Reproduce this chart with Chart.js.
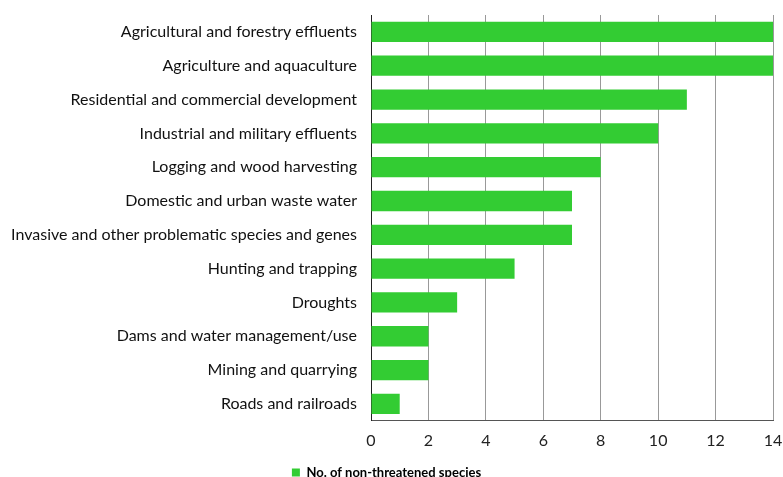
<!DOCTYPE html>
<html>
<head>
<meta charset="utf-8">
<script src="https://cdn.jsdelivr.net/npm/chart.js@4/dist/chart.umd.min.js"></script>
<style>
  html, body { margin: 0; padding: 0; background: #fff; overflow: hidden; }
  #wrap { width: 783px; height: 489px; position: relative; }
</style>
</head>
<body>
<div id="wrap"><canvas id="c"></canvas></div>
<script>
const threats = [
  "Agricultural and forestry effluents",
  "Agriculture and aquaculture",
  "Residential and commercial development",
  "Industrial and military effluents",
  "Logging and wood harvesting",
  "Domestic and urban waste water",
  "Invasive and other problematic species and genes",
  "Hunting and trapping",
  "Droughts",
  "Dams and water management/use",
  "Mining and quarrying",
  "Roads and railroads"
];
const nonThreatenedCounts = [14, 14, 11, 10, 8, 7, 7, 5, 3, 2, 2, 1];
const seriesLabel = "No. of non-threatened species";
const axisTicks = [0, 2, 4, 6, 8, 10, 12, 14];

const FONT = "Lato, 'Open Sans', sans-serif";

new Chart(document.getElementById('c'), {
  type: 'bar',
  data: {
    labels: threats,
    datasets: [{
      label: seriesLabel,
      data: nonThreatenedCounts,
      backgroundColor: '#33CC33',
      borderWidth: 0,
      categoryPercentage: 0.6,
      barPercentage: 1.0
    }]
  },
  options: {
    indexAxis: 'y',
    responsive: true,
    maintainAspectRatio: false,
    animation: false,
    layout: { padding: { left: 0, right: 10, top: 15, bottom: 0 } },
    plugins: {
      tooltip: { enabled: false },
      legend: {
        position: 'bottom',
        labels: {
          boxWidth: 8,
          boxHeight: 8,
          padding: 6,
          color: '#000',
          font: { family: FONT, size: 13, weight: 'bold' }
        }
      }
    },
    scales: {
      x: {
        min: 0,
        max: 14,
        afterBuildTicks: (scale) => { scale.ticks = axisTicks.map(v => ({ value: v })); },
        afterFit: (scale) => { scale.paddingLeft = 0; scale.paddingRight = 0; },
        grid: { color: '#999', lineWidth: 1, drawTicks: false },
        border: { color: '#555', width: 1 },
        ticks: {
          color: '#222',
          padding: 10,
          font: { family: FONT, size: 16 }
        }
      },
      y: {
        afterFit: (scale) => { scale.width = 371; scale.paddingTop = 0; scale.paddingBottom = 0; },
        grid: { display: false, drawTicks: false },
        border: { color: '#222', width: 1 },
        ticks: {
          color: '#111',
          padding: 14,
          font: { family: FONT, size: 16 }
        }
      }
    }
  }
});
</script>
</body>
</html>
